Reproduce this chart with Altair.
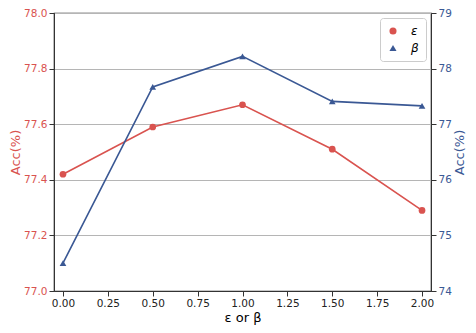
import altair as alt
import pandas as pd

xs = [0.0, 0.5, 1.0, 1.5, 2.0]
eps_acc = [77.42, 77.59, 77.67, 77.51, 77.29]
beta_acc = [74.50, 77.67, 78.22, 77.41, 77.33]
x_ticks = [0.0, 0.25, 0.5, 0.75, 1.0, 1.25, 1.5, 1.75, 2.0]
left_ticks = [77.0, 77.2, 77.4, 77.6, 77.8, 78.0]
right_ticks = [74, 75, 76, 77, 78, 79]

RED = "#d9534f"
BLUE = "#3a5894"

df_e = pd.DataFrame({"x": xs, "acc": eps_acc, "s": "ε"})
df_b = pd.DataFrame({"x": xs, "acc": beta_acc, "s": "β"})

xenc = alt.X("x:Q", scale=alt.Scale(domain=[-0.05, 2.05], nice=False, zero=False),
             axis=alt.Axis(values=x_ticks, format=".2f", title="ε or β", grid=False,
                           labelColor="#222", titleColor="#000", titleFontSize=13,
                           labelFontSize=10.5, tickColor="#333", domainColor="#333",
                           titleFontWeight="normal", labelFlush=False, titlePadding=3))

color = alt.Color("s:N", scale=alt.Scale(domain=["ε", "β"], range=[RED, BLUE]),
                  legend=alt.Legend(title=None, orient="top-right", offset=5,
                                    labelFontStyle="italic", labelFontSize=12,
                                    fillColor="white", strokeColor="#cccccc",
                                    cornerRadius=3, padding=7, symbolSize=50,
                                    labelColor="#000", symbolStrokeWidth=0,
                                    labelOffset=12, rowPadding=5,
                                    direction="vertical"))
shape = alt.Shape("s:N", scale=alt.Scale(domain=["ε", "β"], range=["circle", "triangle-up"]))

yl = alt.Y("acc:Q", scale=alt.Scale(domain=[77.0, 78.0], nice=False, zero=False),
           axis=alt.Axis(values=left_ticks, format=".1f", title="Acc(%)", orient="left",
                         labelColor=RED, titleColor=RED, titleFontSize=13, labelFontSize=10.5,
                         titleFontWeight="normal", grid=True, gridColor="#b5b5b5",
                         titlePadding=1,
                         tickColor="#333", domainColor="#333", labelFlush=False))
yr = alt.Y("acc:Q", scale=alt.Scale(domain=[74, 79], nice=False, zero=False),
           axis=alt.Axis(values=right_ticks, format="d", title="Acc(%)", orient="right",
                         labelColor=BLUE, titleColor=BLUE, titleFontSize=13, labelFontSize=10.5,
                         titleFontWeight="normal", grid=False, titleAngle=270,
                         titleBaseline="top", titlePadding=2,
                         tickColor="#333", domainColor="#333", labelFlush=False))

red_line = alt.Chart(df_e).mark_line(color=RED, strokeWidth=1.6).encode(x=xenc, y=yl)
red_pts = alt.Chart(df_e).mark_point(filled=True, size=45, opacity=1).encode(x=xenc, y=yl, color=color, shape=shape)
blue_line = alt.Chart(df_b).mark_line(color=BLUE, strokeWidth=1.6).encode(x=xenc, y=yr)
blue_pts = alt.Chart(df_b).mark_point(filled=True, size=45, opacity=1).encode(x=xenc, y=yr, color=color, shape=shape)

left = alt.layer(red_line, red_pts)
right = alt.layer(blue_line, blue_pts)

chart = alt.layer(left, right).resolve_scale(y="independent").properties(
    width=377, height=278,
    autosize=alt.AutoSizeParams(type="none"),
    padding={"left": 46, "top": 5, "right": 37, "bottom": 34},
).configure_view(stroke="#222", strokeWidth=1.2).configure_axis(
    labelFont="DejaVu Sans", titleFont="DejaVu Sans"
).configure_legend(labelFont="DejaVu Sans")

chart.save("out.html", embed_options={"renderer": "svg", "actions": False})
